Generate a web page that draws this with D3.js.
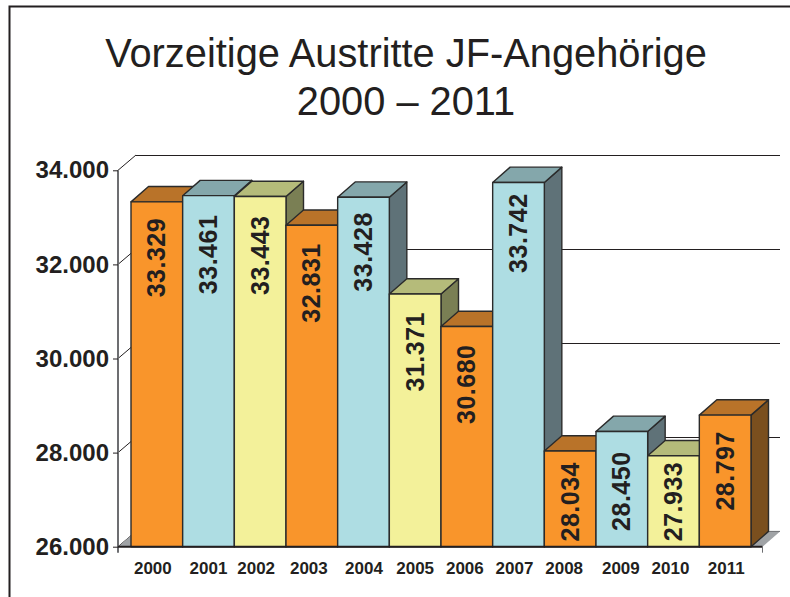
<!DOCTYPE html>
<html><head><meta charset="utf-8">
<script src="https://cdn.jsdelivr.net/npm/d3@7"></script>
<style>html,body{margin:0;padding:0;background:#fff}svg{display:block}text{font-family:"Liberation Sans",Arial,sans-serif;fill:#231f20}</style>
</head><body><svg id="c" width="790" height="597"></svg>
<script>
const years=["2000","2001","2002","2003","2004","2005","2006","2007","2008","2009","2010","2011"];
const values=[33329,33461,33443,32831,33428,31371,30680,33742,28034,28450,27933,28797];
const yTicks=[26000,28000,30000,32000,34000];
const titleLines=["Vorzeitige Austritte JF-Angehörige","2000 – 2011"];
const colourRows=[["#f9952b","#b97329","#7a4f1e"],["#aedde3","#84a7ab","#5f7278"],["#f3f19a","#b5bb7a","#7a7f54"]];
const barColourIndex=[0,1,2,0,1,2,0,1,0,1,2,0];
const labelGap=[16,19,19,18,15,18,18,11,11,20,6,16];
const yearNudge=[-4,0,-4,-3,0.5,0,-2,-4,-6,-1,-3,1];

const svg=d3.select("#c");
const fmt=d3.formatLocale({decimal:",",thousands:".",grouping:[3],currency:["","€"]}).format(",");
const y=d3.scaleLinear().domain([26000,34000]).range([546.7,170.3]);
const x=d3.scaleBand().domain(years).range([131,751]);
const dx=17.5,dy=15.3,axisX=118,backX=136,right=780;

// frame
svg.append("path").attr("d","M9.5,597V6.5H790").attr("fill","none").attr("stroke","#231f20").attr("stroke-width",2);

// title
svg.selectAll("text.title").data(titleLines).join("text").attr("class","title")
 .attr("x",406).attr("y",(d,i)=>67+i*47.5).attr("text-anchor","middle")
 .attr("font-size",39.8).text(d=>d);

// back grid + left wall
const grid=svg.append("g");
grid.selectAll("line.back").data(yTicks.slice(1)).join("line").attr("class","back")
 .attr("x1",backX).attr("x2",right).attr("y1",d=>Math.round(y(d)-dy)+.5).attr("y2",d=>Math.round(y(d)-dy)+.5).attr("stroke","#231f20").attr("stroke-width",1);
grid.selectAll("line.wall").data(yTicks).join("line").attr("class","wall")
 .attr("x1",axisX).attr("x2",backX).attr("y1",d=>y(d)).attr("y2",d=>y(d)-dy).attr("stroke","#231f20").attr("stroke-width",1);

// floor
const y0=y(26000);
svg.append("path").attr("d",`M${axisX},${y0}L${axisX+dx},${y0-dy}H${right}L${right-dx},${y0}Z`).attr("fill","#a0a3a6");
svg.append("line").attr("x1",axisX+dx).attr("x2",right).attr("y1",y0-dy).attr("y2",y0-dy).attr("stroke","#6d6e71").attr("stroke-width",1);

// bars, left to right
const bw=x.bandwidth();
const bars=svg.append("g").selectAll("g").data(values).join("g");
const stroke={stroke:"#2b2b2b","stroke-width":1.4,"stroke-linejoin":"round"};
function st(s){Object.entries(stroke).forEach(([k,v])=>s.attr(k,v));return s;}
st(bars.append("path").attr("d",(d,i)=>{const l=x(years[i]),t=y(d);return `M${l+bw},${t}l${dx},${-dy}V${y0-dy}L${l+bw},${y0}Z`;}).attr("fill",(d,i)=>colourRows[barColourIndex[i]][2]));
st(bars.append("path").attr("d",(d,i)=>{const l=x(years[i]),t=y(d);return `M${l},${t}l${dx},${-dy}h${bw}l${-dx},${dy}Z`;}).attr("fill",(d,i)=>colourRows[barColourIndex[i]][1]));
st(bars.append("rect").attr("x",(d,i)=>x(years[i])).attr("y",d=>y(d)).attr("width",bw).attr("height",d=>y0-y(d)).attr("fill",(d,i)=>colourRows[barColourIndex[i]][0]));

// value labels
bars.append("text").attr("transform",(d,i)=>`translate(${x(years[i])+bw/2+8.5},${y(d)+labelGap[i]}) rotate(-90)`)
 .attr("text-anchor","end").attr("font-size",25).attr("font-weight","bold").attr("letter-spacing",0.5).text(d=>fmt(d));

// y axis
const ya=svg.append("g").attr("transform",`translate(${axisX},0)`)
 .call(d3.axisLeft(y).tickValues(yTicks).tickFormat(fmt).tickSize(5).tickPadding(4));
ya.select(".domain").attr("d",`M0,${y(34000)}V${y0+6}`).attr("stroke","#6d6e71").attr("stroke-width",2);
ya.selectAll(".tick line").attr("stroke","#231f20");
ya.selectAll(".tick text").attr("font-size",24).attr("font-weight","bold").attr("font-family",null);

// x axis
const xa=svg.append("g").attr("transform",`translate(0,${y0})`)
 .call(d3.axisBottom(x).tickSize(0).tickPadding(15));
xa.select(".domain").attr("d",`M${axisX},0H${right-dx}`).attr("stroke","#231f20").attr("stroke-width",2);
xa.selectAll(".tick text").attr("font-size",17).attr("font-weight","bold").attr("font-family",null)
 .attr("dx",(d,i)=>yearNudge[i]);
svg.append("line").attr("x1",right-dx).attr("x2",right-dx).attr("y1",y0).attr("y2",y0+6).attr("stroke","#6d6e71").attr("stroke-width",1);
</script></body></html>
